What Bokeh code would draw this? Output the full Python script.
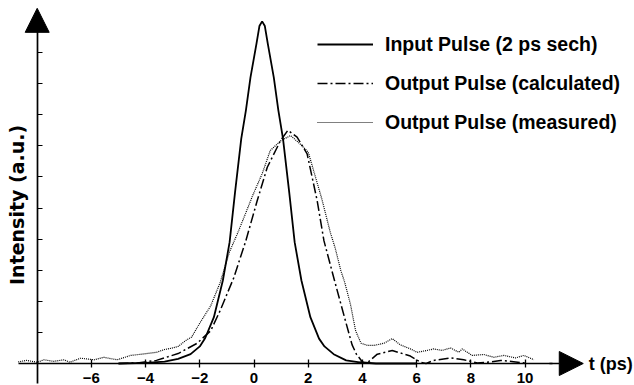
import math
from bokeh.plotting import figure
from bokeh.models import (LinearAxis, FixedTicker, Range1d, Arrow, NormalHead,
                          Label, Legend, LegendItem)
from bokeh.core.properties import value
from bokeh.embed import file_html
from bokeh.resources import INLINE

# ---- data ----
t_input = [-5.0, -4.0, -3.3, -2.8, -2.34, -2.0, -1.8, -1.48, -1.15, -0.9, -0.7, -0.47,
           -0.3, -0.13, 0.09, 0.2, 0.3, 0.4, 0.51, 0.73, 0.9, 1.07, 1.3, 1.5, 1.75,
           2.08, 2.4, 2.6, 2.94, 3.4, 3.9, 4.5, 6.0]
i_input = [0.0, 0.02, 0.06, 0.15, 0.3, 0.55, 0.82, 1.49, 2.67, 3.9, 5.5, 7.23,
           8.13, 9.2, 10.28, 10.85, 11.0, 10.85, 10.28, 9.2, 8.13, 7.23, 5.5, 3.9, 2.67,
           1.49, 0.8, 0.55, 0.3, 0.1, 0.04, 0.0, 0.0]

t_calc = [-5.0, -4.3, -3.6, -2.8, -2.1, -1.6, -1.25, -0.75, -0.3, 0.12, 0.49, 0.98,
          1.25, 1.59, 1.96, 2.33, 2.58, 2.97, 3.35, 3.62, 3.78, 4.0, 4.15, 4.55, 5.1,
          5.77, 6.15, 6.35, 6.63, 7.25, 7.74, 8.24, 8.73, 9.1, 9.58, 10.1]
i_calc = [0.0, 0.02, 0.1, 0.32, 0.65, 1.05, 1.7, 2.75, 3.95, 5.24, 6.31, 7.17,
          7.5, 7.28, 6.74, 5.24, 3.95, 2.67, 1.45, 0.6, 0.3, 0.05, 0.0, 0.3, 0.42,
          0.24, 0.04, 0.0, 0.1, 0.18, 0.12, 0.02, 0.05, 0.1, 0.06, 0.0]

t_meas = [-8.7, -8.4, -8.0, -7.75, -7.4, -7.0, -6.8, -6.4, -5.9, -5.55, -5.05, -4.55,
          -4.05, -3.6, -3.3, -3.0, -2.8, -2.5, -2.3, -2.0, -1.6, -1.25, -0.9, -0.6,
          -0.3, -0.05, 0.15, 0.3, 0.6, 1.0, 1.35, 1.7, 2.0, 2.2, 2.5, 2.82, 3.0,
          3.2, 3.35, 3.56, 3.75, 3.95, 4.2, 4.42, 4.79, 5.1, 5.4, 5.77, 6.02, 6.39,
          6.63, 6.94, 7.25, 7.56, 7.68, 8.05, 8.48, 8.85, 9.22, 9.65, 9.96, 10.33]
i_meas = [0.05, 0.1, 0.04, 0.12, 0.07, 0.12, 0.04, 0.17, 0.12, 0.2, 0.12, 0.26,
          0.31, 0.36, 0.45, 0.5, 0.55, 0.75, 0.85, 1.3, 1.85, 2.6, 3.6, 4.2,
          4.85, 5.4, 5.8, 6.1, 6.85, 7.17, 7.33, 7.06, 6.8, 6.2, 5.3, 4.2, 3.7,
          3.0, 2.6, 1.9, 1.05, 0.65, 0.58, 0.58, 0.65, 0.8, 0.6, 0.47, 0.36, 0.42,
          0.47, 0.42, 0.5, 0.36, 0.47, 0.26, 0.29, 0.2, 0.26, 0.18, 0.26, 0.12]

x_ticks = [-6, -4, -2, 0, 2, 4, 6, 8, 10]
y_ticks = [1, 2, 3, 4, 5, 6, 7, 8, 9, 10]

labels = ["Input Pulse (2 ps sech)", "Output Pulse (calculated)", "Output Pulse (measured)"]

FONT = "Liberation Sans"

p = figure(width=634, height=385, output_backend="svg", toolbar_location=None,
           x_range=Range1d(-9.354, 14.04), y_range=Range1d(-0.707, 11.672),
           x_axis_location=None, y_axis_location=None, min_border=0,
           outline_line_color=None, background_fill_color="white")
p.xgrid.visible = False
p.ygrid.visible = False

r_in = p.line(t_input, i_input, line_color="black", line_width=1.8)
r_calc = p.line(t_calc, i_calc, line_color="black", line_width=1.5, line_dash="10 3 2 3")
r_meas = p.line(t_meas, i_meas, line_color="black", line_width=1.2, line_dash="1 1")

xaxis = LinearAxis(fixed_location=0, ticker=FixedTicker(ticks=x_ticks),
                   bounds=(-8.7, 11.0), axis_line_width=1.7, major_tick_line_width=1.3,
                   major_tick_in=4, major_tick_out=4, minor_tick_line_color=None,
                   major_label_text_font=FONT, major_label_text_font_style="bold",
                   major_label_text_font_size="15px", major_label_text_color="black",
                   major_label_standoff=5)
p.add_layout(xaxis, "below")

yaxis = LinearAxis(fixed_location=-8, ticker=FixedTicker(ticks=y_ticks),
                   bounds=(-0.65, 10.9), axis_line_width=1.7, major_tick_line_width=1.0,
                   major_tick_in=5, major_tick_out=0, minor_tick_line_color=None,
                   major_label_overrides={t: "" for t in y_ticks})
p.add_layout(yaxis, "left")

p.add_layout(Arrow(x_start=10.9, y_start=0, x_end=12.15, y_end=0, line_width=1.7,
                   end=NormalHead(size=24, fill_color="black", line_color="black")))
p.add_layout(Arrow(x_start=-8, y_start=10.8, x_end=-8, y_end=11.42, line_width=1.7,
                   end=NormalHead(size=24, fill_color="black", line_color="black")))

p.add_layout(Label(x=12.35, y=0, text="t (ps)", text_font=FONT, text_font_style="bold",
                   text_font_size="18px", text_baseline="middle", text_align="left",
                   text_color="black"))
p.add_layout(Label(x=-8, y=5.1, x_offset=-20, angle=math.pi / 2, text="Intensity (a.u.)",
                   text_font="DejaVu Sans", text_font_style="bold", text_font_size="19px",
                   text_baseline="middle", text_align="center", text_color="black"))

legend = Legend(items=[LegendItem(label=labels[0], renderers=[r_in]),
                       LegendItem(label=labels[1], renderers=[r_calc]),
                       LegendItem(label=labels[2], renderers=[r_meas])],
                location=(317, 251), padding=0, margin=0, spacing=15,
                glyph_width=56, glyph_height=24, label_height=24, label_standoff=12,
                label_text_font=FONT, label_text_font_style="bold",
                label_text_font_size="19.5px", label_text_color="black",
                background_fill_alpha=0, border_line_color=None)
p.add_layout(legend, "center")

open("out.html", "w").write(file_html(p, INLINE))
